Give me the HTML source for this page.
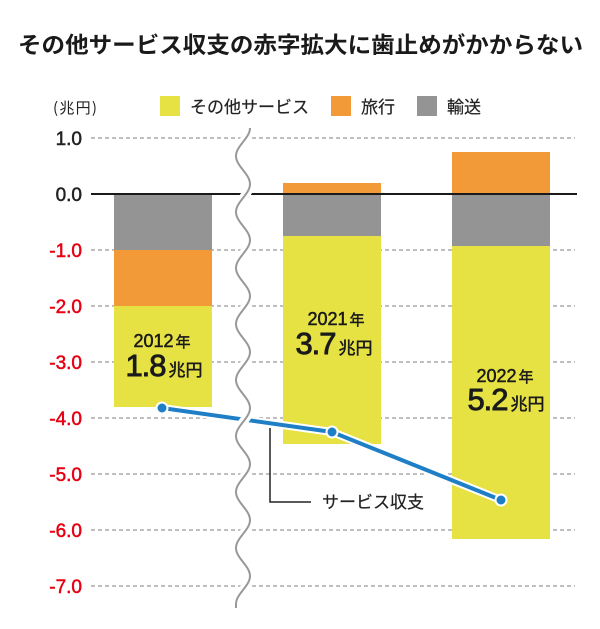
<!DOCTYPE html>
<html>
<head>
<meta charset="utf-8">
<style>
html,body{margin:0;padding:0;background:#fff;}
svg{display:block;}
text{font-family:"Liberation Sans","Noto Sans CJK JP",sans-serif;}
.jp{font-family:"Noto Sans CJK JP","Liberation Sans",sans-serif;}
</style>
</head>
<body>
<svg width="600" height="629" viewBox="0 0 600 629" xmlns="http://www.w3.org/2000/svg">
<rect width="600" height="629" fill="#fff"/>
<!-- title -->
<text class="jp" x="18" y="53" font-size="22.5" font-weight="bold" fill="#1a1a1a" textLength="565" lengthAdjust="spacingAndGlyphs">その他サービス収支の赤字拡大に歯止めがかからない</text>

<!-- unit & legend -->
<text class="jp" x="53" y="113" font-size="15" fill="#222" textLength="44" lengthAdjust="spacing">(兆円)</text>
<rect x="160" y="96" width="20" height="20" fill="#e6e244"/>
<text class="jp" x="190" y="113" font-size="17" fill="#222" stroke="#222" stroke-width="0.2">その他サービス</text>
<rect x="331" y="96" width="20" height="20" fill="#f19a37"/>
<text class="jp" x="361" y="113" font-size="17" fill="#222" stroke="#222" stroke-width="0.2">旅行</text>
<rect x="417" y="96" width="20" height="20" fill="#949494"/>
<text class="jp" x="447" y="113" font-size="17" fill="#222" stroke="#222" stroke-width="0.2">輸送</text>

<!-- grid -->
<g stroke="#aaa" stroke-width="1.5" stroke-dasharray="4 3">
<line x1="91" y1="138" x2="575" y2="138"/>
<line x1="91" y1="250" x2="575" y2="250"/>
<line x1="91" y1="306" x2="575" y2="306"/>
<line x1="91" y1="362" x2="575" y2="362"/>
<line x1="91" y1="418" x2="575" y2="418"/>
<line x1="91" y1="474" x2="575" y2="474"/>
<line x1="91" y1="530" x2="575" y2="530"/>
<line x1="91" y1="586" x2="575" y2="586"/>
</g>

<!-- y labels -->
<g font-size="19" text-anchor="end" stroke-width="0.5">
<text x="82" y="145" fill="#222" stroke="#222">1.0</text>
<text x="82" y="201" fill="#222" stroke="#222">0.0</text>
<text x="82" y="257" fill="#e60012" stroke="#e60012">-1.0</text>
<text x="82" y="313" fill="#e60012" stroke="#e60012">-2.0</text>
<text x="82" y="369" fill="#e60012" stroke="#e60012">-3.0</text>
<text x="82" y="425" fill="#e60012" stroke="#e60012">-4.0</text>
<text x="82" y="481" fill="#e60012" stroke="#e60012">-5.0</text>
<text x="82" y="537" fill="#e60012" stroke="#e60012">-6.0</text>
<text x="82" y="593" fill="#e60012" stroke="#e60012">-7.0</text>
</g>

<!-- bars -->
<rect x="114" y="194" width="98" height="56" fill="#949494"/>
<rect x="114" y="250" width="98" height="56" fill="#f19a37"/>
<rect x="114" y="306" width="98" height="101" fill="#e6e244"/>

<rect x="283" y="183" width="98" height="11" fill="#f19a37"/>
<rect x="283" y="194" width="98" height="42" fill="#949494"/>
<rect x="283" y="236" width="98" height="208" fill="#e6e244"/>

<rect x="452" y="152" width="98" height="42" fill="#f19a37"/>
<rect x="452" y="194" width="98" height="52" fill="#949494"/>
<rect x="452" y="246" width="98" height="293" fill="#e6e244"/>

<!-- zero line -->
<line x1="91" y1="194" x2="577" y2="194" stroke="#1a1a1a" stroke-width="2"/>

<!-- bar labels -->
<g fill="#1a1a1a" stroke="#1a1a1a" stroke-width="0.5" text-anchor="middle">
<text x="162" y="347"><tspan font-size="18">2012</tspan><tspan class="jp" font-size="15" dx="2">年</tspan></text>
<text x="164" y="376"><tspan font-size="31" letter-spacing="-1" stroke-width="0.9">1.8</tspan><tspan class="jp" font-size="17" dx="3">兆円</tspan></text>
<text x="336" y="325"><tspan font-size="18">2021</tspan><tspan class="jp" font-size="15" dx="2">年</tspan></text>
<text x="334" y="354"><tspan font-size="31" letter-spacing="-1" stroke-width="0.9">3.7</tspan><tspan class="jp" font-size="17" dx="3">兆円</tspan></text>
<text x="505" y="382"><tspan font-size="18">2022</tspan><tspan class="jp" font-size="15" dx="2">年</tspan></text>
<text x="506" y="410"><tspan font-size="31" letter-spacing="-1" stroke-width="0.9">5.2</tspan><tspan class="jp" font-size="17" dx="3">兆円</tspan></text>
</g>

<!-- callout -->
<path d="M270 428 V502 H311" fill="none" stroke="#222" stroke-width="1.5"/>
<text class="jp" x="322" y="508" font-size="17" fill="#222" stroke="#222" stroke-width="0.2">サービス収支</text>

<!-- service balance line -->
<polyline points="162,408 332,432 501,500" fill="none" stroke="#fff" stroke-width="8" stroke-linejoin="round"/>
<polyline points="162,408 332,432 501,500" fill="none" stroke="#1f7fc6" stroke-width="4" stroke-linejoin="round"/>
<g fill="#1f7fc6" stroke="#fff" stroke-width="2">
<circle cx="162" cy="408" r="5.5"/>
<circle cx="332" cy="432" r="5.5"/>
<circle cx="501" cy="500" r="5.5"/>
</g>

<!-- wave break -->
<path d="M250 128 C250 138.2 236 145.8 236 156 S250 173.8 250 184 S236 201.8 236 212 S250 229.8 250 240 S236 257.8 236 268 S250 285.8 250 296 S236 313.8 236 324 S250 341.8 250 352 S236 369.8 236 380 S250 397.8 250 408 S236 425.8 236 436 S250 453.8 250 464 S236 481.8 236 492 S250 509.8 250 520 S236 537.8 236 548 S250 565.8 250 576 S236 593.8 236 604 L236 608" fill="none" stroke="#fff" stroke-width="9"/>
<path d="M250 128 C250 138.2 236 145.8 236 156 S250 173.8 250 184 S236 201.8 236 212 S250 229.8 250 240 S236 257.8 236 268 S250 285.8 250 296 S236 313.8 236 324 S250 341.8 250 352 S236 369.8 236 380 S250 397.8 250 408 S236 425.8 236 436 S250 453.8 250 464 S236 481.8 236 492 S250 509.8 250 520 S236 537.8 236 548 S250 565.8 250 576 S236 593.8 236 604 L236 608" fill="none" stroke="#999" stroke-width="2"/>
</svg>
</body>
</html>
